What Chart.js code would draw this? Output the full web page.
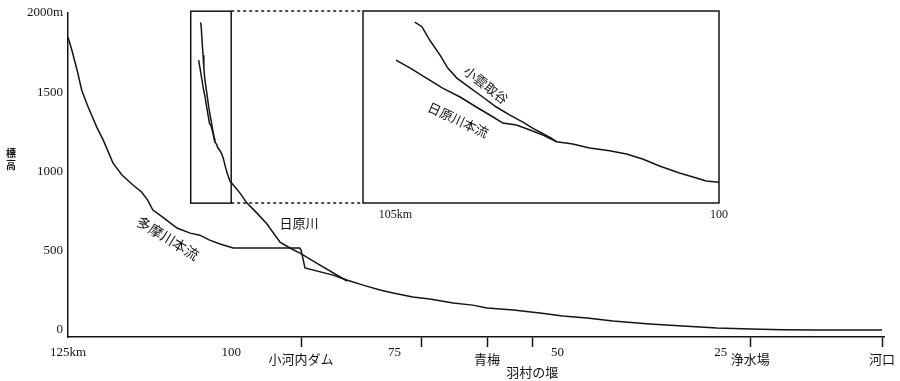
<!DOCTYPE html>
<html><head><meta charset="utf-8">
<script src="https://cdn.jsdelivr.net/npm/chart.js@4.4.1/dist/chart.umd.min.js"></script>
<style>
html,body{margin:0;padding:0;background:#fff;}
#wrap{position:relative;width:900px;height:381px;background:#fff;}
#wrap canvas{position:absolute;left:0;top:0;}
</style></head><body>
<div id="wrap"><canvas id="main" width="900" height="381"></canvas><canvas id="inset" width="900" height="381"></canvas></div>
<script>
// ---- data (km from river mouth, elevation m) ----
const TAMA_KM   = [125.0,124.4,123.6,122.9,121.9,120.6,119.6,118.1,116.7,115.0,113.7,112.8,112.0,110.5,108.3,106.3,104.8,103.3,101.7,99.7,89.5,89.3,88.7,84.4,82.3,79.8,77.2,75.2,72.2,69.6,66.0,63.0,60.8,56.8,52.7,49.2,45.5,41.5,37.8,35.9,30.8,25.6,20.5,15.5,10.3,0.3];
const TAMA_ELEV = [1846,1764,1638,1512,1405,1279,1197,1052,976,913,869,819,756,712,643,611,598,567,542,517,517,504,391,346,315,283,252,233,208,195,170,157,139,126,107,88,76,57,44,38,25,13,6,2,0,0];
const NIPPARA_KM   = [104.99,104.77,104.52,104.27,104.00,103.75,103.49,103.34,103.13,102.92,102.72,102.51,102.26,102.00,101.69,101.43,101.18,100.92,100.61,100.35,100.20,100.00,98.65,97.58,96.05,94.52,92.52,91.00,89.46,86.40,82.26];
const NIPPARA_ELEV = [1701,1650,1587,1524,1468,1405,1342,1304,1291,1260,1228,1186,1172,1146,1129,1109,1077,1033,989,957,939,930,863,800,737,668,554,517,485,409,309];
const KOKUMO_KM   = [104.70,104.59,104.47,104.31,104.19,104.05,103.84,103.65,103.44,103.23,103.03,102.88,102.74,102.59,102.51];
const KOKUMO_ELEV = [1940,1911,1827,1732,1650,1587,1524,1468,1405,1354,1310,1272,1241,1209,1186];

const X_TICK_KM     = [125, 100, 89.3, 75, 70.8, 60.8, 53.9, 50, 25, 20.5, 0.3];
const X_TICK_LABELS = ['125km', '100', '小河内ダム', '75', '', '青梅', ['', '羽村の堰'], '50', '25', '浄水場', '河口'];
const Y_TICKS       = [0, 500, 1000, 1500, 2000];
const Y_TICK_LABELS = ['0', '500', '1000', '1500', '2000m'];
const Y_TITLE       = ['標', '高'];
const INSET_TICKS   = [105, 100];
const INSET_LABELS  = ['105km', '100'];
const ZOOM_KM_MAIN  = [106.2, 100];   // small frame on main chart
const ZOOM_KM_INSET = [105.5, 100];   // inset x range
const ZOOM_ELEV     = [800, 2010];    // shared elevation range

// ---- annotation text placement ----
const MAIN_TEXT  = [{t:'多摩川本流', km:109.7, e:579, a:31.5}, {t:'日原川', km:89.6, e:674, a:0}];
const INSET_TEXT = [{t:'小雲取谷', km:103.6, e:1543, a:38}, {t:'日原川本流', km:104.03, e:1323, a:25}];

const INK = '#141414';
const CJK = '"Noto Sans CJK JP", "Noto Sans CJK SC", sans-serif';
const SERIF = '"Liberation Serif", "DejaVu Serif", serif';

const pts = (xs, ys) => xs.map((x, i) => ({x, y: ys[i]}));
const lineDs = (d) => ({data: d, borderColor: INK, borderWidth: 1.5, pointRadius: 0, tension: 0, fill: false});

function drawText(ctx, txt, x, y, ang, size) {
  ctx.save();
  ctx.translate(x, y);
  ctx.rotate(ang * Math.PI / 180);
  ctx.font = size + 'px ' + CJK;
  ctx.fillStyle = INK;
  ctx.textAlign = 'center';
  ctx.textBaseline = 'middle';
  ctx.fillText(txt, 0, 0);
  ctx.restore();
}

const isPlace = (lab) => Array.isArray(lab) || !/^\d/.test(lab);

const mainPlugin = {
  id: 'mainDeco',
  afterDraw(chart) {
    const {ctx, scales: {x, y}} = chart;
    const x1 = x.getPixelForValue(ZOOM_KM_MAIN[0]), x2 = x.getPixelForValue(ZOOM_KM_MAIN[1]);
    const y1 = y.getPixelForValue(ZOOM_ELEV[1]), y2 = y.getPixelForValue(ZOOM_ELEV[0]);
    ctx.save();
    ctx.strokeStyle = INK; ctx.lineWidth = 1.5;
    ctx.strokeRect(x1, y1, x2 - x1, y2 - y1);
    ctx.restore();
    const yc = y.getPixelForValue(1080);
    ctx.save();
    ctx.font = 'bold 10px ' + CJK; ctx.fillStyle = INK;
    ctx.textAlign = 'center'; ctx.textBaseline = 'middle';
    Y_TITLE.forEach((c, i) => ctx.fillText(c, chart.chartArea.left - 57, yc - 6 + i * 12));
    ctx.restore();
    MAIN_TEXT.forEach(o => drawText(ctx, o.t, x.getPixelForValue(o.km), y.getPixelForValue(o.e), o.a, o.a ? 14 : 13));
  }
};

const mainChart = new Chart(document.getElementById('main'), {
  type: 'line',
  data: {datasets: [lineDs(pts(TAMA_KM, TAMA_ELEV)), lineDs(pts(NIPPARA_KM, NIPPARA_ELEV)), lineDs(pts(KOKUMO_KM, KOKUMO_ELEV))]},
  options: {
    responsive: false, animation: false, events: [],
    layout: {padding: {left: 0, right: 16, top: 12, bottom: 0}},
    plugins: {legend: {display: false}, tooltip: {enabled: false}},
    scales: {
      x: {
        type: 'linear', min: 0, max: 125, reverse: true,
        afterBuildTicks: s => { s.ticks = X_TICK_KM.map(v => ({value: v})); },
        afterFit: s => { s.height = 44; },
        grid: {display: true, drawOnChartArea: false, drawTicks: true, tickLength: 10, tickWidth: 1.5,
               tickColor: c => isPlace(X_TICK_LABELS[c.index]) ? INK : 'rgba(0,0,0,0)'},
        border: {display: true, color: INK, width: 1.5},
        ticks: {
          autoSkip: false, maxRotation: 0, minRotation: 0, padding: 0, color: INK,
          callback: (v, i) => X_TICK_LABELS[i],
          font: c => {
            const lab = X_TICK_LABELS[c.index];
            if (Array.isArray(lab)) return {family: CJK, size: 13, lineHeight: 1.28};
            if (isPlace(lab)) return {family: CJK, size: 13, lineHeight: 1.85};
            return {family: SERIF, size: 13, lineHeight: 0.85};
          }
        }
      },
      y: {
        type: 'linear', min: -44, max: 2000,
        afterBuildTicks: s => { s.ticks = Y_TICKS.map(v => ({value: v})); },
        afterFit: s => { s.width = 68; },
        grid: {display: false, drawTicks: false},
        border: {display: true, color: INK, width: 1.5},
        ticks: {padding: 5, color: INK, callback: (v, i) => Y_TICK_LABELS[i], font: {family: SERIF, size: 13}}
      }
    }
  },
  plugins: [mainPlugin]
});

const insetPlugin = {
  id: 'insetDeco',
  afterDraw(chart) {
    const {ctx, chartArea: a, scales: {x, y}} = chart;
    const mx = mainChart.scales.x.getPixelForValue(ZOOM_KM_MAIN[1]);
    ctx.save();
    ctx.strokeStyle = INK; ctx.lineWidth = 1.5;
    ctx.strokeRect(a.left, a.top, a.right - a.left, a.bottom - a.top);
    ctx.setLineDash([3, 3]);
    ctx.beginPath();
    ctx.moveTo(mx, a.top); ctx.lineTo(a.left, a.top);
    ctx.moveTo(mx, a.bottom); ctx.lineTo(a.left, a.bottom);
    ctx.stroke();
    ctx.restore();
    INSET_TEXT.forEach(o => drawText(ctx, o.t, x.getPixelForValue(o.km), y.getPixelForValue(o.e), o.a, 13));
  }
};

new Chart(document.getElementById('inset'), {
  type: 'line',
  data: {datasets: [lineDs(pts(NIPPARA_KM, NIPPARA_ELEV)), lineDs(pts(KOKUMO_KM, KOKUMO_ELEV))]},
  options: {
    responsive: false, animation: false, events: [],
    layout: {padding: {left: 363, right: 181, top: 11, bottom: 0}},
    plugins: {legend: {display: false}, tooltip: {enabled: false}},
    scales: {
      x: {
        type: 'linear', min: ZOOM_KM_INSET[1], max: ZOOM_KM_INSET[0], reverse: true,
        afterBuildTicks: s => { s.ticks = INSET_TICKS.map(v => ({value: v})); },
        afterFit: s => { s.height = 178; },
        grid: {display: false, drawTicks: false}, border: {display: false},
        ticks: {autoSkip: false, maxRotation: 0, padding: 6, color: INK,
                callback: (v, i) => INSET_LABELS[i], font: {family: SERIF, size: 12, lineHeight: 1}}
      },
      y: {type: 'linear', display: false, min: ZOOM_ELEV[0], max: ZOOM_ELEV[1]}
    }
  },
  plugins: [insetPlugin]
});
</script>
</body></html>
